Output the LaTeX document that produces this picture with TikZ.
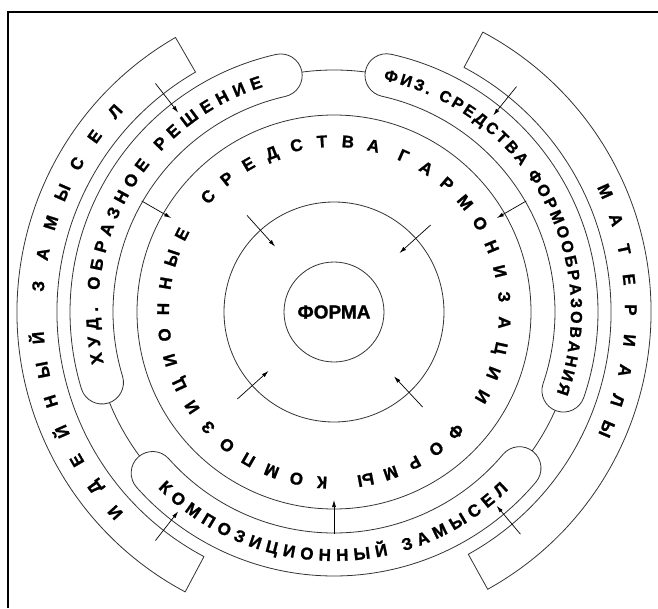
\documentclass[tikz,border=0pt]{standalone}
\usepackage{fontspec}
\setmainfont{Liberation Sans}[BoldFeatures={FakeBold=1.2}]
\usetikzlibrary{arrows.meta,decorations.text}
\newcommand{\pillfont}{\bfseries\fontsize{17}{17}\selectfont}
\newcommand{\pillfontsm}{\bfseries\fontsize{16}{16}\selectfont}

\begin{document}
\begin{tikzpicture}[
  x=1pt, y=1pt, line width=0.8pt,
  ring/.style={draw=black!80},
  band/.style={draw=black!80, fill=white},
  pill/.style={draw=black!80, fill=white},
  arr/.style={-{Latex[length=7pt,width=4pt]}, line width=0.7pt},
  lett/.style={inner sep=0pt, text height=12pt, text depth=0pt,
    font=\bfseries\fontsize{17}{17}\selectfont},
  pilltext/.style={decorate, decoration={text along path,
    text align={fit to path}, text={|\pillfont|#1}}},
  pilltextsm/.style={decorate, decoration={text along path,
    text align={fit to path}, text={|\pillfontsm|#1}}}
]
\useasboundingbox (-334,-296) rectangle (324,312);
% frame
\draw[line width=1.6pt] (-326,-296) -- (-326,300) -- (324,300);

% rings
\draw[ring] (0,0) circle[radius=242];
\draw[ring] (0,0) circle[radius=197];
\draw[ring] (0,0) circle[radius=110];
\node[circle, draw=black!80, minimum size=100pt, inner sep=0pt,
  font=\bfseries\fontsize{19}{19}\selectfont] (forma) at (0,0) {ФОРМА};

% outer bands
\foreach \s/\e in {120/242, -61/62}
  \draw[band] (\s:277) -- (\s:317) arc[start angle=\s, end angle=\e, radius=317]
    -- (\e:277) arc[start angle=\e, end angle=\s, radius=277] -- cycle;

% pills on the middle ring
\foreach \s/\e in {102.7/196.9, -18.9/77.5, 221.6/319.9}
  \draw[pill] (\s:264) arc[start angle=\s, end angle=\e, radius=264]
    arc[start angle=\e, end angle=\e+180, radius=21.5]
    arc[start angle=\e, end angle=\s, radius=221]
    arc[start angle=\s+180, end angle=\s+360, radius=21.5] -- cycle;

\path[pilltext={ХУД. ОБРАЗНОЕ РЕШЕНИЕ}] (192.5:236) arc[start angle=192.5, end angle=107.5, radius=236];
\path[pilltextsm={ФИЗ. СРЕДСТВА ФОРМООБРАЗОВАНИЯ}] (78:237) arc[start angle=78, end angle=-20, radius=237];
\path[pilltext={КОМПОЗИЦИОННЫЙ ЗАМЫСЕЛ}] (225:249) arc[start angle=225, end angle=314.5, radius=249];

% spaced letters, outer bands
\foreach \ch [count=\k from 0] in {И,Д,Е,Й,Н,Ы,Й}
  \node[lett, rotate={132.5-6.25*\k}] (idea-\k) at ({222.5-6.25*\k}:297) {\ch};
\foreach \ch [count=\k from 0] in {З,А,М,Ы,С,Е,Л}
  \node[lett, rotate={85-6.25*\k}] (plan-\k) at ({175-6.25*\k}:297) {\ch};
\foreach \ch [count=\k from 0] in {М,А,Т,Е,Р,И,А,Л,Ы}
  \node[lett, rotate={-66-5.9*\k}] (mat-\k) at ({24-5.9*\k}:297) {\ch};

% spaced letters, inner ring
\foreach \ch [count=\k from 0] in {К,О,М,П,О,З,И,Ц,И,О,Н,Н,Ы,Е}
  \node[lett, rotate={176-8.7*\k}] (komp-\k) at ({266-8.7*\k}:171) {\ch};
\foreach \ch [count=\k from 0] in {С,Р,Е,Д,С,Т,В,А}
  \node[lett, rotate={47.5-8.7*\k}] (sred-\k) at ({137.5-8.7*\k}:171) {\ch};
\foreach \ch [count=\k from 0] in {Г,А,Р,М,О,Н,И,З,А,Ц,И,И}
  \node[lett, rotate={-24-8.7*\k}] (garm-\k) at ({66-8.7*\k}:171) {\ch};
\foreach \ch [count=\k from 0] in {Ф,О,Р,М,Ы}
  \node[lett, rotate={-134.5-8.7*\k}] (form-\k) at ({-44.5-8.7*\k}:171) {\ch};

% arrows
\foreach \a in {132,42,222,313}
  \draw[arr] (\a:130) -- (\a:88);
\foreach \a in {150,30,270}
  \draw[arr] (\a:222) -- (\a:188);
\foreach \a in {128,51,232,310}
  \draw[arr] (\a:290) -- (\a:253);
\end{tikzpicture}
\end{document}
